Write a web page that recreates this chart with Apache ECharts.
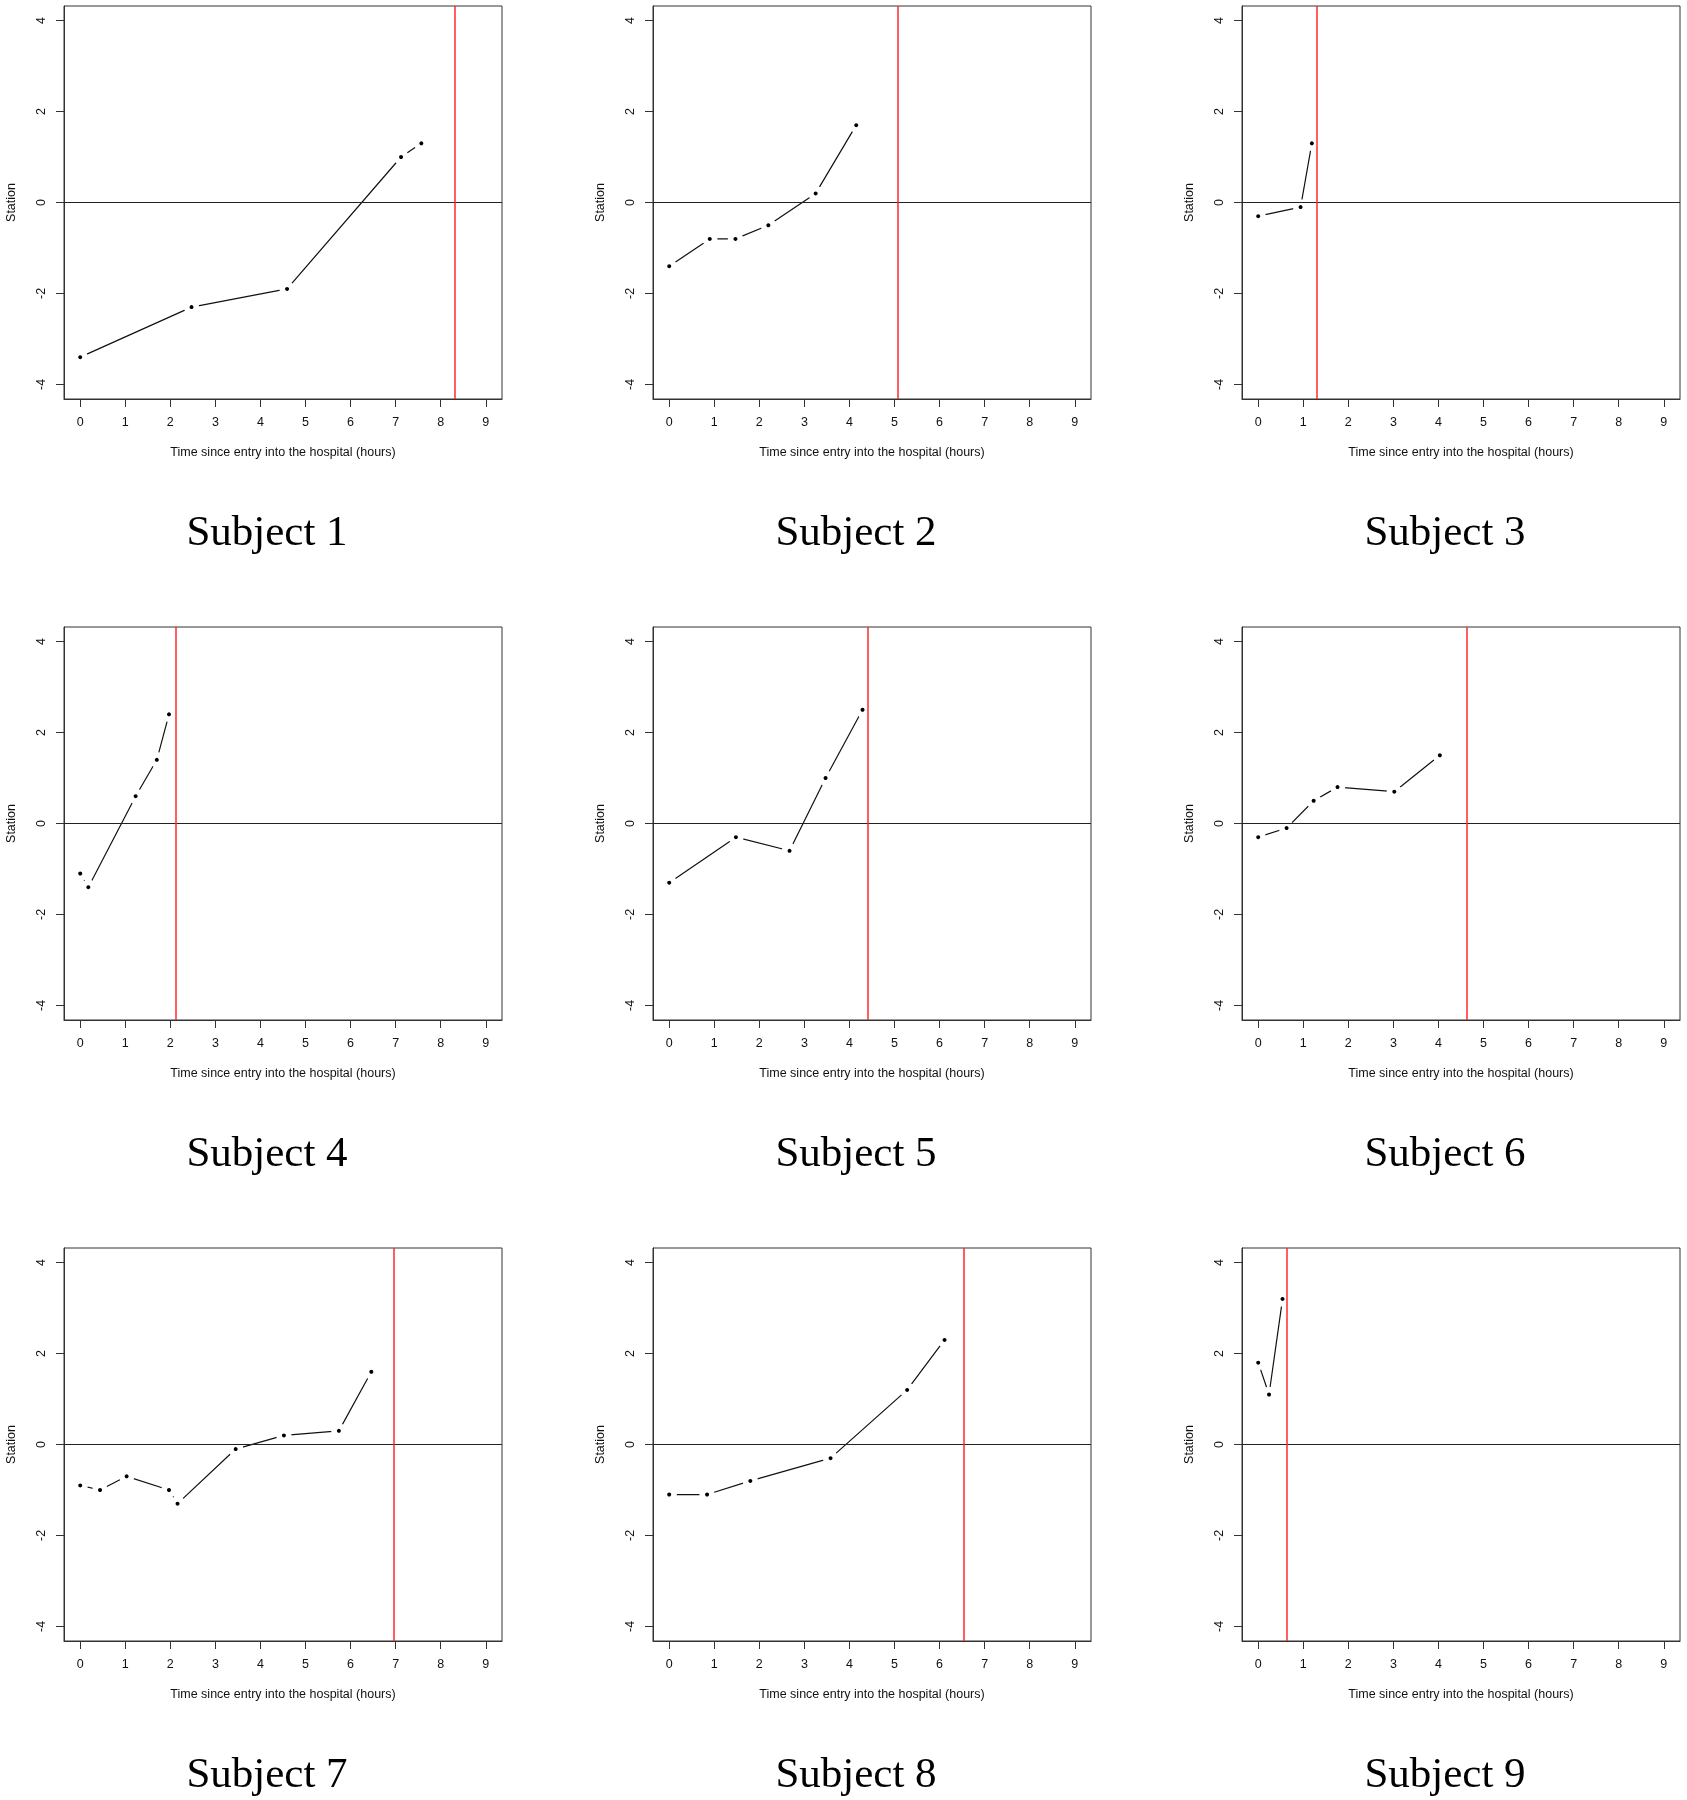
<!DOCTYPE html>
<html>
<head>
<meta charset="utf-8">
<script src="https://cdn.jsdelivr.net/npm/echarts@6/dist/echarts.min.js"></script>
<style>
html,body{margin:0;padding:0;background:#fff;}
#chart{width:1687px;height:1800px;}
</style>
</head>
<body>
<div id="chart"></div>
<script>
// ---- data ----
const xTicks = [0, 1, 2, 3, 4, 5, 6, 7, 8, 9];
const yTicks = [-4, -2, 0, 2, 4];
const subjectNames = ['Subject 1', 'Subject 2', 'Subject 3', 'Subject 4', 'Subject 5', 'Subject 6', 'Subject 7', 'Subject 8', 'Subject 9'];

const time1 = [0, 2.47, 4.59, 7.12, 7.57];
const station1 = [-3.4, -2.3, -1.9, 1.0, 1.3];
const time2 = [0, 0.90, 1.47, 2.20, 3.25, 4.15];
const station2 = [-1.4, -0.8, -0.8, -0.5, 0.2, 1.7];
const time3 = [0, 0.94, 1.19];
const station3 = [-0.3, -0.1, 1.3];
const time4 = [0, 0.18, 1.23, 1.70, 1.97];
const station4 = [-1.1, -1.4, 0.6, 1.4, 2.4];
const time5 = [0, 1.48, 2.67, 3.47, 4.29];
const station5 = [-1.3, -0.3, -0.6, 1.0, 2.5];
const time6 = [0, 0.63, 1.23, 1.76, 3.02, 4.03];
const station6 = [-0.3, -0.1, 0.5, 0.8, 0.7, 1.5];
const time7 = [0, 0.44, 1.03, 1.97, 2.16, 3.45, 4.52, 5.74, 6.46];
const station7 = [-0.9, -1.0, -0.7, -1.0, -1.3, -0.1, 0.2, 0.3, 1.6];
const time8 = [0, 0.84, 1.80, 3.58, 5.28, 6.11];
const station8 = [-1.1, -1.1, -0.8, -0.3, 1.2, 2.3];
const time9 = [0, 0.24, 0.54];
const station9 = [1.8, 1.1, 3.2];
const deliveryTime = [8.31, 5.08, 1.30, 2.13, 4.40, 4.63, 6.96, 6.53, 0.63];

const times = [time1, time2, time3, time4, time5, time6, time7, time8, time9];
const stations = [station1, station2, station3, station4, station5, station6, station7, station8, station9];

// ---- layout ----
const colLeft = [64, 653, 1242];
const rowTop = [6, 627, 1248];
const gw = 438, gh = 393;
const titleX = [267, 856, 1445];
const titleY = [534, 1155, 1776];

const sansFont = '"Liberation Sans", Arial, sans-serif';

const grids = [], xAxes = [], yAxes = [], series = [], graphics = [];
for (let i = 0; i < 9; i++) {
  const r = Math.floor(i / 3), c = i % 3;
  grids.push({left: colLeft[c], top: rowTop[r], width: gw, height: gh, show: true,
    borderColor: '#333', borderWidth: 1, backgroundColor: 'transparent'});
  xAxes.push({
    type: 'value', gridIndex: i, min: -0.36, max: 9.36, position: 'bottom',
    axisLine: {show: true, onZero: false, lineStyle: {color: '#333', width: 1}},
    axisTick: {show: true, customValues: xTicks, length: 8, inside: false, lineStyle: {color: '#333', width: 1}},
    axisLabel: {show: true, customValues: xTicks, margin: 17, fontSize: 12.5, color: '#111', fontFamily: sansFont},
    splitLine: {show: false},
    name: 'Time since entry into the hospital (hours)', nameLocation: 'middle', nameGap: 47,
    nameTextStyle: {fontSize: 12.5, color: '#111', fontFamily: sansFont}
  });
  yAxes.push({
    type: 'value', gridIndex: i, min: -4.32, max: 4.32, position: 'left',
    axisLine: {show: true, onZero: false, lineStyle: {color: '#333', width: 1}},
    axisTick: {show: true, customValues: yTicks, length: 8, inside: false, lineStyle: {color: '#333', width: 1}},
    axisLabel: {show: true, customValues: yTicks, margin: 16, rotate: 90, fontSize: 12.5, color: '#111', fontFamily: sansFont},
    splitLine: {show: false},
    name: 'Station', nameLocation: 'middle', nameGap: 46,
    nameTextStyle: {fontSize: 12.5, color: '#111', fontFamily: sansFont}
  });
  series.push({
    type: 'line', xAxisIndex: i, yAxisIndex: i, z: 2,
    data: times[i].map((t, k) => [t, stations[i][k]]),
    lineStyle: {color: '#111', width: 1.2},
    symbol: 'circle', symbolSize: 9.7, showSymbol: true, showAllSymbol: true,
    itemStyle: {color: '#000', borderColor: '#fff', borderWidth: 5.7},
    emphasis: {disabled: true}
  });
  series.push({
    type: 'line', xAxisIndex: i, yAxisIndex: i, z: 5, data: [],
    markLine: {
      silent: true, symbol: ['none', 'none'], label: {show: false}, animation: false,
      data: [
        {yAxis: 0, lineStyle: {color: '#222', width: 1, type: 'solid'}},
        {xAxis: deliveryTime[i], lineStyle: {color: '#ff2a2a', width: 1.5, type: 'solid'}}
      ]
    }
  });
  graphics.push({
    type: 'text', x: titleX[c], y: titleY[r],
    style: {text: subjectNames[i], font: '43px "Liberation Serif", serif', fill: '#000',
      textAlign: 'center', textVerticalAlign: 'middle'}
  });
}

const chart = echarts.init(document.getElementById('chart'), null, {renderer: 'canvas'});
chart.setOption({
  backgroundColor: '#fff',
  animation: false,
  grid: grids, xAxis: xAxes, yAxis: yAxes, series: series, graphic: graphics
});
</script>
</body>
</html>
